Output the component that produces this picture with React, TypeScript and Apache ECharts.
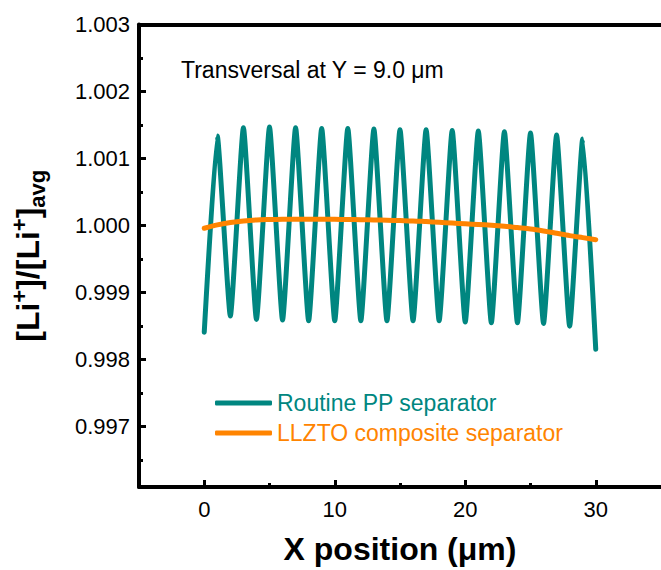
import React, { useEffect, useRef } from "react";
import * as echarts from "echarts";

const xPositions = [0, 1, 2, 3, 4, 5, 6, 7, 8, 9, 10, 11, 12, 13, 14, 15, 16, 17, 18, 19, 20, 21, 22, 23, 24, 25, 26, 27, 28, 29, 30];

const routinePP = [
  0.99841, 1.001335, 0.99865, 1.00146, 0.9986, 1.00147, 0.99859, 1.00146, 0.99858, 1.00145,
  0.99858, 1.00145, 0.99858, 1.00144, 0.99858, 1.00143, 0.99858, 1.00143, 0.99858, 1.00142,
  0.99856, 1.00141, 0.99855, 1.0014, 0.99855, 1.00138, 0.99854, 1.00135, 0.9985, 1.00129,
  0.998155,
];

const llzto = [
  0.99996, 1.00001, 1.000045, 1.00007, 1.000085, 1.00009, 1.000093, 1.000094, 1.000094, 1.000094,
  1.000093, 1.00009, 1.000088, 1.000085, 1.00008, 1.000075, 1.00007, 1.00006, 1.00005, 1.000038,
  1.000027, 1.000016, 1.000005, 0.99999, 0.99997, 0.99995, 0.99992, 0.999885, 0.99985, 0.99982,
  0.99979,
];

const seriesNames = ["Routine PP separator", "LLZTO composite separator"];
const seriesColors = ["#008680", "#FF8400"];

const xMajorTicks = [0, 10, 20, 30];
const xMinorTicks = [5, 15, 25];
const yMajorTicks = [0.997, 0.998, 0.999, 1.0, 1.001, 1.002, 1.003];
const yMinorTicks = [0.9965, 0.9975, 0.9985, 0.9995, 1.0005, 1.0015, 1.0025];

const titleText = "Transversal at Y = 9.0 μm";
const xName = "X position (μm)";

const FONT = "'Liberation Sans', Arial, Helvetica, sans-serif";

export default function App() {
  const ref = useRef<HTMLDivElement>(null);

  useEffect(() => {
    if (!ref.current) return;
    const chart = echarts.init(ref.current, undefined, { renderer: "svg" });
    const xMin = -5;
    const xMax = 35;
    const yMin = 0.9961;
    const yMax = 1.003;

    const tickXAxis = (values: number[], length: number) => ({
      type: "value",
      min: xMin,
      max: xMax,
      position: "bottom",
      axisLine: { show: false, onZero: false },
      axisTick: { show: true, inside: true, length, customValues: values, lineStyle: { color: "#000", width: 3 } },
      axisLabel: { show: false },
      splitLine: { show: false },
    });
    const tickYAxis = (values: number[], length: number) => ({
      type: "value",
      min: yMin,
      max: yMax,
      position: "left",
      axisLine: { show: false, onZero: false },
      axisTick: { show: true, inside: true, length, customValues: values, lineStyle: { color: "#000", width: 3 } },
      axisLabel: { show: false },
      splitLine: { show: false },
    });

    const option: any = {
      animation: false,
      backgroundColor: "#ffffff",
      grid: { left: 136.5, right: -5.5, top: 24.5, bottom: 82, containLabel: false },
      graphic: [
        {
          type: "text",
          left: 181,
          top: 58,
          style: {
            text: titleText,
            fill: "#000",
            font: `23px ${FONT}`,
          },
        },
      ],
      legend: {
        orient: "vertical",
        left: 215,
        top: 388,
        padding: 0,
        itemWidth: 57,
        itemHeight: 5,
        itemGap: 0,
        icon: "roundRect",
        textStyle: { fontFamily: FONT, fontSize: 23, lineHeight: 30 },
        data: seriesNames.map((n, i) => ({ name: n, textStyle: { color: seriesColors[i] } })),
      },
      xAxis: [
        {
          type: "value",
          min: xMin,
          max: xMax,
          position: "bottom",
          name: xName,
          nameLocation: "middle",
          nameGap: 46,
          nameTextStyle: { fontFamily: FONT, fontSize: 32, fontWeight: "bold", color: "#000" },
          axisLine: { show: true, onZero: false, lineStyle: { color: "#000", width: 4 } },
          axisTick: { show: false },
          axisLabel: {
            show: true,
            customValues: xMajorTicks,
            margin: 11,
            fontFamily: FONT,
            fontSize: 22,
            color: "#000",
            formatter: (v: number) => (Math.abs(v % 10) < 1e-9 && v >= 0 && v <= 30 ? String(v) : ""),
          },
          splitLine: { show: false },
        },
        tickXAxis(xMajorTicks, 7),
        tickXAxis(xMinorTicks, 4),
        {
          type: "value",
          min: xMin,
          max: xMax,
          position: "top",
          axisLine: { show: true, onZero: false, lineStyle: { color: "#000", width: 4 } },
          axisTick: { show: false },
          axisLabel: { show: false },
          splitLine: { show: false },
        },
      ],
      yAxis: [
        {
          type: "value",
          min: yMin,
          max: yMax,
          position: "left",
          name: "{m|[Li}{s|+}{m|]/[Li}{s|+}{m|]}{b|avg}",
          nameLocation: "middle",
          nameRotate: 90,
          nameGap: 91,
          nameTextStyle: {
            fontFamily: FONT,
            fontSize: 32,
            fontWeight: "bold",
            color: "#000",
            rich: {
              m: { fontFamily: FONT, fontSize: 32, fontWeight: "bold", color: "#000", lineHeight: 40, verticalAlign: "middle" },
              s: { fontFamily: FONT, fontSize: 22, fontWeight: "bold", color: "#000", lineHeight: 22, verticalAlign: "top" },
              b: { fontFamily: FONT, fontSize: 22, fontWeight: "bold", color: "#000", lineHeight: 22, verticalAlign: "bottom" },
            },
          },
          axisLine: { show: true, onZero: false, lineStyle: { color: "#000", width: 4 } },
          axisTick: { show: false },
          axisLabel: {
            show: true,
            customValues: yMajorTicks,
            margin: 9,
            fontFamily: FONT,
            fontSize: 22,
            color: "#000",
            formatter: (v: number) => {
              const k = v * 1000;
              return Math.abs(k - Math.round(k)) < 1e-6 && v >= 0.9965 ? v.toFixed(3) : "";
            },
          },
          splitLine: { show: false },
        },
        tickYAxis(yMajorTicks, 7),
        tickYAxis(yMinorTicks, 4),
      ],
      series: [
        {
          name: seriesNames[0],
          type: "line",
          xAxisIndex: 0,
          yAxisIndex: 0,
          data: xPositions.map((x, i) => [x, routinePP[i]]),
          showSymbol: false,
          symbol: "none",
          smooth: 0.15,
          color: seriesColors[0],
          lineStyle: { color: seriesColors[0], width: 5, join: "round", cap: "round" },
          z: 2,
        },
        {
          name: seriesNames[1],
          type: "line",
          xAxisIndex: 0,
          yAxisIndex: 0,
          data: xPositions.map((x, i) => [x, llzto[i]]),
          showSymbol: false,
          symbol: "none",
          smooth: 0.3,
          color: seriesColors[1],
          lineStyle: { color: seriesColors[1], width: 5, join: "round", cap: "round" },
          z: 3,
        },
      ],
    };

    chart.setOption(option);
    return () => chart.dispose();
  }, []);

  return (
    <div
      ref={ref}
      style={{ position: "absolute", left: 0, top: 0, width: 661, height: 570, background: "#fff" }}
    />
  );
}
